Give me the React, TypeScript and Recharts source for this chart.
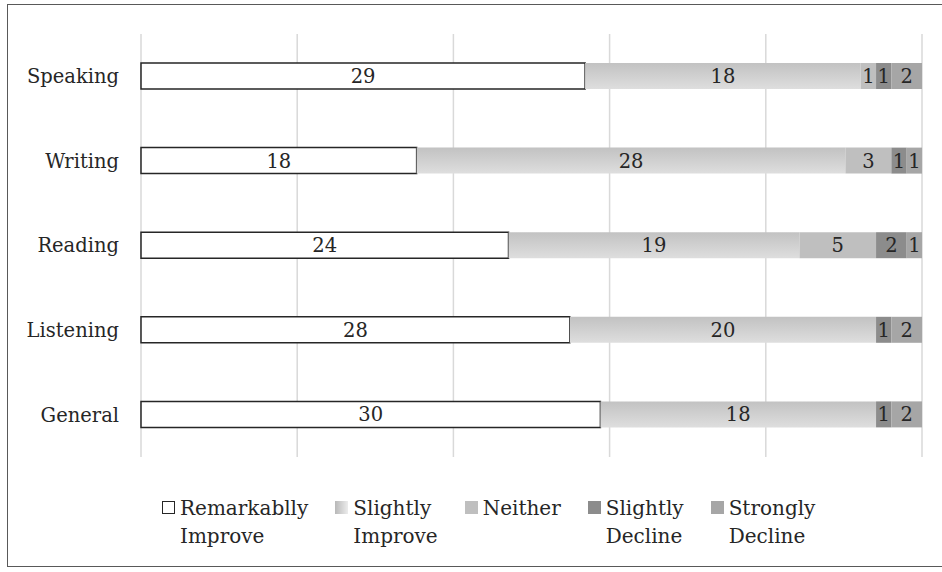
import { BarChart, Bar, XAxis, YAxis, CartesianGrid, Legend, LabelList } from "recharts"

const skills = ["Speaking", "Writing", "Reading", "Listening", "General"]
const remarkablyImprove = [29, 18, 24, 28, 30]
const slightlyImprove = [18, 28, 19, 20, 18]
const neither = [1, 3, 5, 0, 0]
const slightlyDecline = [1, 1, 2, 1, 1]
const stronglyDecline = [2, 1, 1, 2, 2]
const gridTicks = [0, 0.2, 0.4, 0.6, 0.8, 1]

const data = skills.map((name, i) => ({
  name,
  remarkably: remarkablyImprove[i],
  slightly: slightlyImprove[i],
  neither: neither[i],
  slightlyDecline: slightlyDecline[i],
  stronglyDecline: stronglyDecline[i],
}))

const FONT = "DejaVu Serif"
const FS = 19.5
const TEXT = "#262626"

const series = [
  { key: "remarkably", lines: ["Remarkablly", "Improve"], fill: "#ffffff", stroke: TEXT },
  { key: "slightly", lines: ["Slightly", "Improve"], fill: "url(#slightGrad)" },
  { key: "neither", lines: ["Neither"], fill: "#bfbfbf" },
  { key: "slightlyDecline", lines: ["Slightly", "Decline"], fill: "#8c8c8c" },
  { key: "stronglyDecline", lines: ["Strongly", "Decline"], fill: "#a6a6a6" },
]

const hideZero = (v: any) => (Number(v) === 0 ? "" : v)

function renderLegend() {
  return (
    <div
      style={{
        display: "flex",
        justifyContent: "flex-start",
        gap: 27,
        paddingLeft: 162,
        height: 60,
        fontFamily: FONT,
        fontSize: 20,
        lineHeight: "28px",
        color: TEXT,
      }}
    >
      {series.map((s) => (
        <div key={s.key} style={{ display: "flex", alignItems: "flex-start" }}>
          <span
            style={{
              display: "inline-block",
              boxSizing: "border-box",
              width: 13,
              height: 13,
              marginTop: 7,
              marginRight: 5,
              background:
                s.key === "slightly"
                  ? "linear-gradient(90deg, #b8b8b8, #ececec)"
                  : s.fill,
              border: s.stroke ? `1.5px solid ${s.stroke}` : "none",
            }}
          />
          <div>
            {s.lines.map((l) => (
              <div key={l}>{l}</div>
            ))}
          </div>
        </div>
      ))}
    </div>
  )
}

export default function App() {
  return (
    <div
      style={{
        position: "absolute",
        left: 0,
        top: 0,
        width: 942,
        height: 572,
        overflow: "hidden",
        background: "#fff",
      }}
    >
      <div
        style={{
          position: "absolute",
          left: 7,
          top: 4,
          width: 980,
          height: 561,
          border: "1.5px solid #595959",
        }}
      />
      <div style={{ position: "absolute", left: 0, top: 0 }}>
        <BarChart
          width={942}
          height={572}
          data={data}
          layout="vertical"
          stackOffset="expand"
          barSize={26}
          margin={{ top: 34, right: 20, left: 0, bottom: 55 }}
        >
          <defs>
            <linearGradient id="slightGrad" x1="0" y1="0" x2="0" y2="1">
              <stop offset="0%" stopColor="#c2c2c2" />
              <stop offset="100%" stopColor="#dedede" />
            </linearGradient>
          </defs>
          <CartesianGrid horizontal={false} stroke="#d9d9d9" strokeWidth={1.5} />
          <XAxis type="number" domain={[0, 1]} ticks={gridTicks} hide />
          <YAxis
            type="category"
            dataKey="name"
            width={141}
            axisLine={false}
            tickLine={false}
            tickMargin={16}
            tick={{ fill: TEXT, fontSize: FS, fontFamily: FONT }}
          />
          <Legend
            verticalAlign="bottom"
            content={renderLegend}
            wrapperStyle={{ top: 494, left: 0, width: 942 }}
          />
          {series.map((s) => (
            <Bar
              key={s.key}
              dataKey={s.key}
              stackId="a"
              fill={s.fill}
              stroke={s.stroke}
              strokeWidth={s.stroke ? 1.5 : 0}
              isAnimationActive={false}
            >
              <LabelList
                dataKey={s.key}
                position="center"
                formatter={hideZero}
                style={{ fill: TEXT, fontSize: FS, fontFamily: FONT }}
              />
            </Bar>
          ))}
        </BarChart>
      </div>
    </div>
  )
}
